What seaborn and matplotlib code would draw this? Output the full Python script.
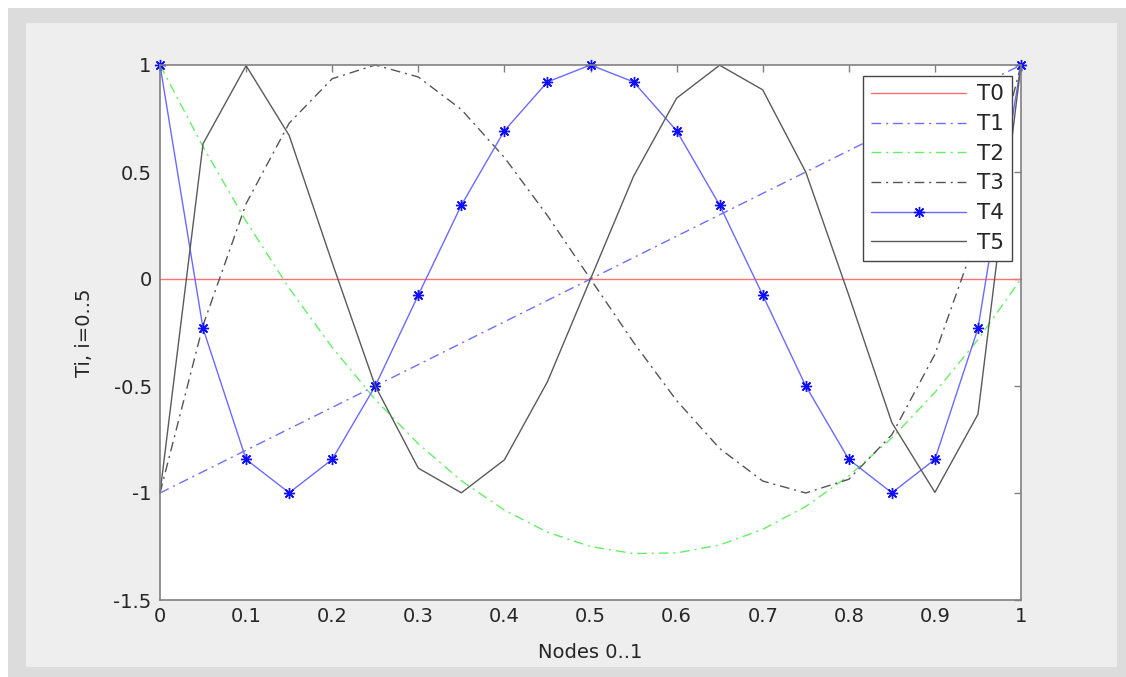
import matplotlib
matplotlib.use("Agg")
import matplotlib.pyplot as plt
from matplotlib.patches import Rectangle
import seaborn as sns
import pandas as pd

# nodes and the six curves
nodes = [0.0, 0.05, 0.1, 0.15, 0.2, 0.25, 0.3, 0.35, 0.4, 0.45, 0.5,
         0.55, 0.6, 0.65, 0.7, 0.75, 0.8, 0.85, 0.9, 0.95, 1.0]
t0 = [0.0] * 21
t1 = [-1.0, -0.9, -0.8, -0.7, -0.6, -0.5, -0.4, -0.3, -0.2, -0.1, 0.0,
      0.1, 0.2, 0.3, 0.4, 0.5, 0.6, 0.7, 0.8, 0.9, 1.0]
t2 = [1.0, 0.618, 0.27, -0.043, -0.32, -0.563, -0.77, -0.943, -1.08, -1.183, -1.25,
      -1.283, -1.28, -1.243, -1.17, -1.063, -0.92, -0.743, -0.53, -0.283, 0.0]
t3 = [-1.0, -0.216, 0.352, 0.728, 0.936, 1.0, 0.944, 0.792, 0.568, 0.296, 0.0,
      -0.296, -0.568, -0.792, -0.944, -1.0, -0.936, -0.728, -0.352, 0.216, 1.0]
t4 = [1.0, -0.231, -0.843, -0.999, -0.843, -0.5, -0.075, 0.345, 0.693, 0.921, 1.0,
      0.921, 0.693, 0.345, -0.075, -0.5, -0.843, -0.999, -0.843, -0.231, 1.0]
t5 = [-1.0, 0.632, 0.997, 0.671, 0.076, -0.5, -0.884, -0.999, -0.845, -0.48, 0.0,
      0.48, 0.845, 0.999, 0.884, 0.5, -0.076, -0.671, -0.997, -0.632, 1.0]

labels = ["T0", "T1", "T2", "T3", "T4", "T5"]
series = [t0, t1, t2, t3, t4, t5]

sns.set_style("white")
plt.rcParams['font.family'] = ['DejaVu Sans']
plt.rcParams['text.color'] = '#262626'
plt.rcParams['xtick.color'] = '#808080'
plt.rcParams['ytick.color'] = '#808080'
plt.rcParams['xtick.labelcolor'] = '#262626'
plt.rcParams['ytick.labelcolor'] = '#262626'

dashdot = (0, (7, 3.5, 1.5, 3.5))
styles = {
    "T0": dict(color='#ff7070', linestyle='-'),
    "T1": dict(color='#6f6fff', linestyle=dashdot),
    "T2": dict(color='#66ee66', linestyle=dashdot),
    "T3": dict(color='#555555', linestyle=dashdot),
    "T4": dict(color='#6a6aff', linestyle='-', marker=(8, 2, 0), markersize=8,
               markeredgewidth=1.0, markerfacecolor='#1010ff', markeredgecolor='#1010ff'),
    "T5": dict(color='#5a5a5a', linestyle='-'),
}

df = pd.DataFrame({"Nodes": nodes})
for name, vals in zip(labels, series):
    df[name] = vals

fig = plt.figure(figsize=(11.26, 6.77), dpi=100)
fig.patch.set_facecolor('white')
# MATLAB-like window frame
fig.patches.append(Rectangle((8 / 1126, 0), 1 - 8 / 1126, 1 - 8 / 677,
                             transform=fig.transFigure, facecolor='#dcdcdc',
                             edgecolor='none', zorder=-2))
fig.patches.append(Rectangle((26 / 1126, 10 / 677), (1117 - 26) / 1126, (667 - 23) / 677,
                             transform=fig.transFigure, facecolor='#eeeeee',
                             edgecolor='none', zorder=-1))

ax = fig.add_axes([160 / 1126, 1 - 600 / 677, 861 / 1126, 535 / 677])
ax.set_facecolor('white')

for name in labels:
    st = dict(styles[name])
    sns.lineplot(data=df, x="Nodes", y=name, ax=ax, label=name,
                 linewidth=1.0, clip_on=False, **st)

ax.set_xlim(0, 1)
ax.set_ylim(-1.5, 1)
ax.set_xticks([0, 0.1, 0.2, 0.3, 0.4, 0.5, 0.6, 0.7, 0.8, 0.9, 1])
ax.set_xticklabels(["0", "0.1", "0.2", "0.3", "0.4", "0.5", "0.6", "0.7", "0.8", "0.9", "1"])
ax.set_yticks([-1.5, -1, -0.5, 0, 0.5, 1])
ax.set_yticklabels(["-1.5", "-1", "-0.5", "0", "0.5", "1"])
ax.tick_params(direction='in', length=5, width=1, top=True, right=True,
               labelsize=14)
ax.tick_params(axis='x', pad=5)
ax.tick_params(axis='y', pad=6)
for sp in ax.spines.values():
    sp.set_visible(True)
    sp.set_color('#808080')
    sp.set_linewidth(1.2)

ax.set_xlabel("Nodes 0..1", fontsize=14, labelpad=12)
ax.set_ylabel("Ti, i=0..5", fontsize=14, labelpad=14)

leg = ax.legend(loc='upper right', bbox_to_anchor=(0.9895, 0.979), fontsize=15.5,
                frameon=True, fancybox=False, framealpha=1, edgecolor='#444444',
                handlelength=4.4, handletextpad=0.5, labelspacing=0.45,
                borderpad=0.38, borderaxespad=0, numpoints=1)
leg.get_frame().set_linewidth(1.0)

fig.savefig("out.png", dpi=100)
